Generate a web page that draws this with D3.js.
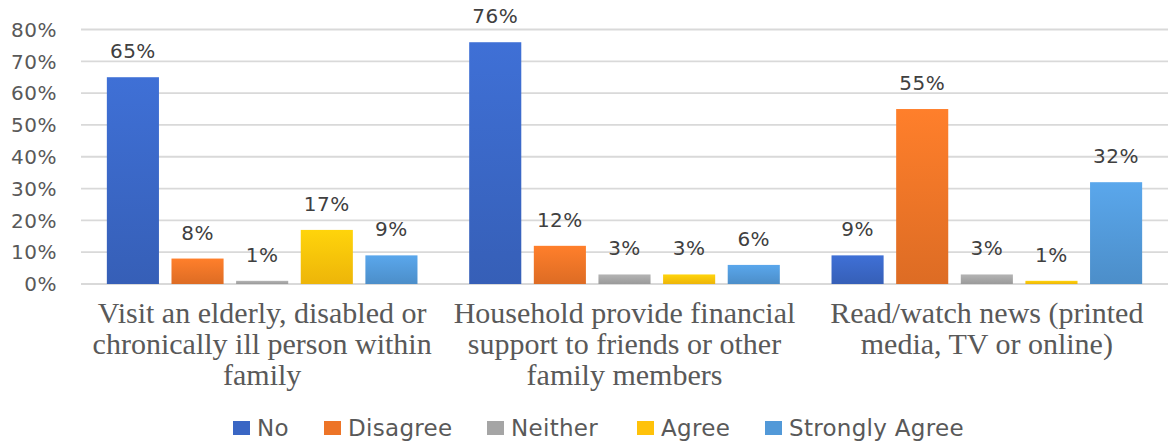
<!DOCTYPE html>
<html>
<head>
  <title>Grouped Bar Chart</title>
  <script src="https://d3js.org/d3.v7.min.js"></script>
  <style>
    body { margin: 0; background: #fff; }
    .tick-label { font-family: "DejaVu Sans", sans-serif; font-size: 20px; letter-spacing: 0.5px; fill: #595959; }
    .value-label { font-family: "DejaVu Sans", sans-serif; font-size: 20px; letter-spacing: 0.5px; fill: #404040; }
    .cat-label { font-family: "Liberation Serif", "Times New Roman", serif; font-size: 30px; fill: #595959; }
    .legend text { font-family: "DejaVu Sans", sans-serif; font-size: 23px; letter-spacing: 0.3px; fill: #595959; }
  </style>
</head>
<body>
<div id="chart-container"></div>
<script>
var categories = [
  ["Visit an elderly, disabled or", "chronically ill person within", "family"],
  ["Household provide financial", "support to friends or other", "family members"],
  ["Read/watch news (printed", "media, TV or online)"]
];
var seriesNames = ["No", "Disagree", "Neither", "Agree", "Strongly Agree"];
var noValues = [65, 76, 9];
var disagreeValues = [8, 12, 55];
var neitherValues = [1, 3, 3];
var agreeValues = [17, 3, 1];
var stronglyAgreeValues = [9, 6, 32];
var yTicks = [0, 10, 20, 30, 40, 50, 60, 70, 80];

var seriesValues = [noValues, disagreeValues, neitherValues, agreeValues, stronglyAgreeValues];
var colors = ["#3a66c4", "#ed7427", "#a5a5a5", "#ffc20a", "#5299d8"];

var width = 1173, height = 443;
var plotLeft = 81, plotRight = 1168, plotTop = 29.5, plotBottom = 284;

var svg = d3.select("#chart-container")
  .append("svg")
  .attr("width", width)
  .attr("height", height);

// gradients for the bars
var defs = svg.append("defs");
colors.forEach(function(c, i) {
  var g = defs.append("linearGradient")
    .attr("id", "grad" + i)
    .attr("x1", 0).attr("y1", 0).attr("x2", 0).attr("y2", 1);
  g.append("stop").attr("offset", "0%").attr("stop-color", d3.color(c).brighter(0.25));
  g.append("stop").attr("offset", "100%").attr("stop-color", d3.color(c).darker(0.2));
});

var x0 = d3.scaleBand()
  .domain(d3.range(categories.length))
  .range([plotLeft, plotRight]);

var x1 = d3.scaleBand()
  .domain(d3.range(seriesNames.length))
  .range([0, x0.bandwidth()])
  .paddingInner(0.194)
  .paddingOuter(0.4);

var y = d3.scaleLinear()
  .domain([0, 80])
  .range([plotBottom, plotTop]);

// gridlines
svg.append("g")
  .selectAll("line")
  .data(yTicks)
  .enter().append("line")
  .attr("x1", plotLeft)
  .attr("x2", plotRight)
  .attr("y1", d => y(d))
  .attr("y2", d => y(d))
  .attr("stroke", "#d9d9d9")
  .attr("stroke-width", 1.8);

// y tick labels
svg.append("g")
  .selectAll("text")
  .data(yTicks)
  .enter().append("text")
  .attr("class", "tick-label")
  .attr("x", 57)
  .attr("y", d => y(d))
  .attr("dy", "0.36em")
  .attr("text-anchor", "end")
  .text(d => d + "%");

// bars
var groups = svg.append("g")
  .selectAll("g")
  .data(categories)
  .enter().append("g")
  .attr("transform", (d, i) => "translate(" + x0(i) + ",0)");

groups.each(function(cat, ci) {
  var g = d3.select(this);
  var vals = seriesValues.map((s, si) => ({ si: si, v: s[ci] }));

  g.selectAll("rect")
    .data(vals)
    .enter().append("rect")
    .attr("x", d => x1(d.si))
    .attr("width", x1.bandwidth())
    .attr("y", d => y(d.v))
    .attr("height", d => plotBottom - y(d.v))
    .attr("fill", d => "url(#grad" + d.si + ")");

  g.selectAll("text")
    .data(vals)
    .enter().append("text")
    .attr("class", "value-label")
    .attr("x", d => x1(d.si) + x1.bandwidth() / 2)
    .attr("y", d => y(d.v) - 19)
    .attr("text-anchor", "middle")
    .text(d => d.v + "%");
});

// category labels
categories.forEach(function(lines, i) {
  var t = svg.append("text")
    .attr("class", "cat-label")
    .attr("text-anchor", "middle")
    .attr("x", x0(i) + x0.bandwidth() / 2)
    .attr("y", 323);
  lines.forEach(function(line, li) {
    t.append("tspan")
      .attr("x", x0(i) + x0.bandwidth() / 2)
      .attr("dy", li === 0 ? 0 : 31)
      .text(line);
  });
});

// legend
var legendX = [233, 324, 487, 637, 765];
var legend = svg.append("g").attr("class", "legend");
seriesNames.forEach(function(name, i) {
  var item = legend.append("g").attr("transform", "translate(" + legendX[i] + ",421)");
  item.append("rect")
    .attr("width", 17)
    .attr("height", 14)
    .attr("fill", colors[i]);
  item.append("text")
    .attr("x", 24)
    .attr("y", 7)
    .attr("dy", "0.36em")
    .text(name);
});
</script>
</body>
</html>
